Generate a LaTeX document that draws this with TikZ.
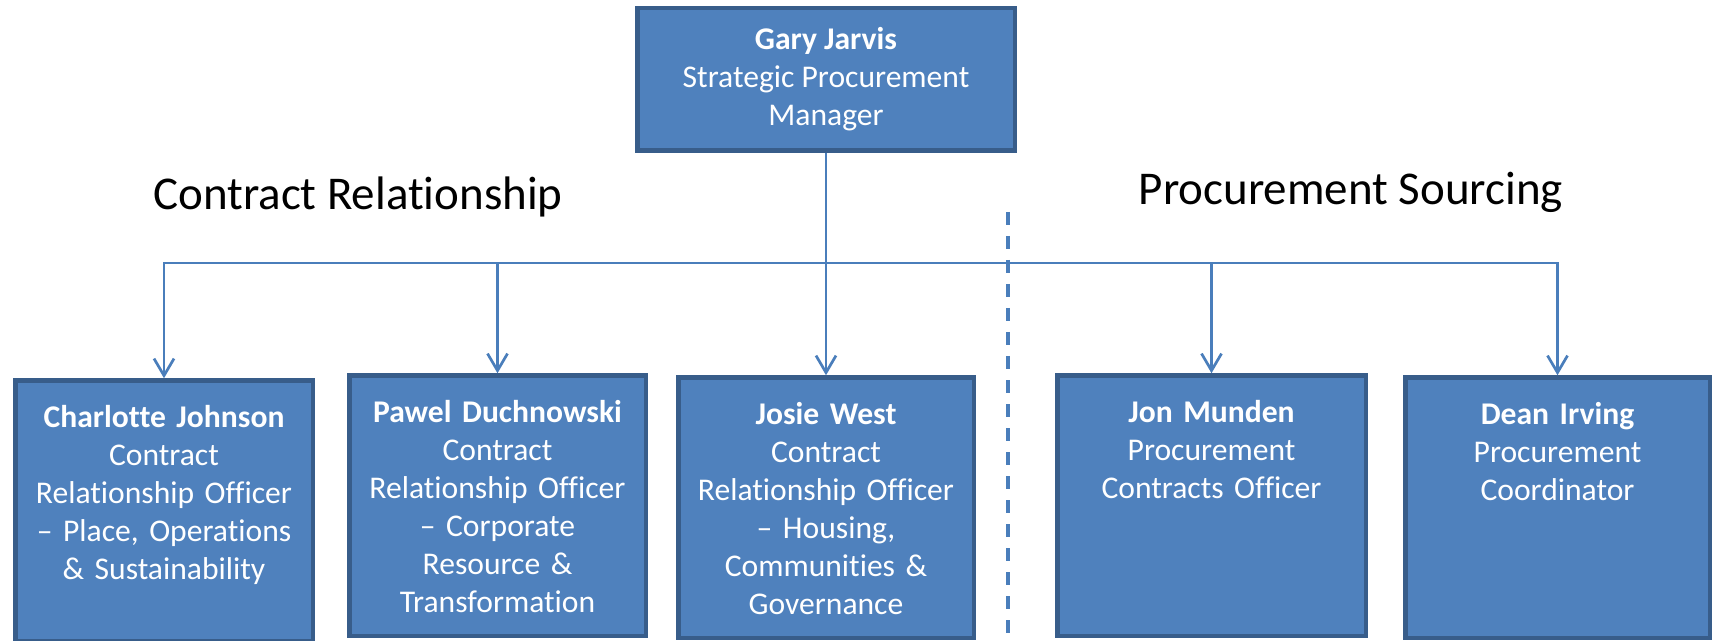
\documentclass[tikz,border=0pt]{standalone}
\usepackage{fontspec}
\setmainfont{Carlito}[Ligatures=NoCommon]
\usetikzlibrary{arrows.meta}

\definecolor{boxblue}{HTML}{4F81BD}
\definecolor{boxedge}{HTML}{385D8A}
\definecolor{linkblue}{HTML}{4A7EBB}

\tikzset{
  lead/.style={draw=boxedge, fill=boxblue, line width=2.25pt, text=white, align=center, inner sep=0pt,
    minimum width=188.75pt, minimum height=71.25pt, font=\fontsize{15.8pt}{19pt}\selectfont},
  staff/.style={draw=boxedge, fill=boxblue, line width=2.25pt, text=white, align=center, inner sep=0pt,
    anchor=north, text height=23.4pt, text depth=106.85pt, font=\fontsize{15.8pt}{19pt}\selectfont},
  link/.style={draw=linkblue, line width=1.35pt, -{Straight Barb[length=8.5pt,width=10pt]}},
  grouptitle/.style={font=\fontsize{23.5pt}{28pt}\selectfont, anchor=base}
}

\begin{document}
\begin{tikzpicture}[x=0.5pt, y=-0.5pt]
\useasboundingbox (0,0) rectangle (1717,641);

% Manager
\node[lead] (gary) at (826,79.5) {\textbf{Gary Jarvis}\\Strategic Procurement\\Manager};

% Group titles
\node[grouptitle] (crtitle) at (358,210) {Contract Relationship};
\node[grouptitle] (pstitle) at (1351,205) {Procurement Sourcing};

% Divider
\coordinate (divtop) at (1008,212);
\coordinate (divbot) at (1008,641);
\draw[linkblue, line width=2pt, dash pattern=on 6.5pt off 5.5pt] (divtop) -- (divbot);

% Officers
\node[staff, text width=148.75pt] (charlotte) at (164,378.25) {\textbf{Charlotte Johnson}\\Contract\\Relationship Officer\\– Place, Operations\\\& Sustainability};
\node[staff, text width=148.25pt] (pawel) at (497.5,373.25) {\textbf{Pawel Duchnowski}\\Contract\\Relationship Officer\\– Corporate\\Resource \&\\Transformation};
\node[staff, text width=147.75pt] (josie) at (826,375.25) {\textbf{Josie West}\\Contract\\Relationship Officer\\– Housing,\\Communities \&\\Governance};
\node[staff, text width=154.25pt] (jon) at (1211.5,373.25) {\textbf{Jon Munden}\\Procurement\\Contracts Officer};
\node[staff, text width=152.25pt] (dean) at (1557.5,375.25) {\textbf{Dean Irving}\\Procurement\\Coordinator};

% Links
\coordinate (bus) at (826,263);
\draw[link] (gary.south) -- (bus) -| (charlotte.north);
\draw[link] (gary.south) -- (bus) -| (pawel.north);
\draw[link] (gary.south) -- (bus) -| (josie.north);
\draw[link] (gary.south) -- (bus) -| (jon.north);
\draw[link] (gary.south) -- (bus) -| (dean.north);

\end{tikzpicture}
\end{document}
